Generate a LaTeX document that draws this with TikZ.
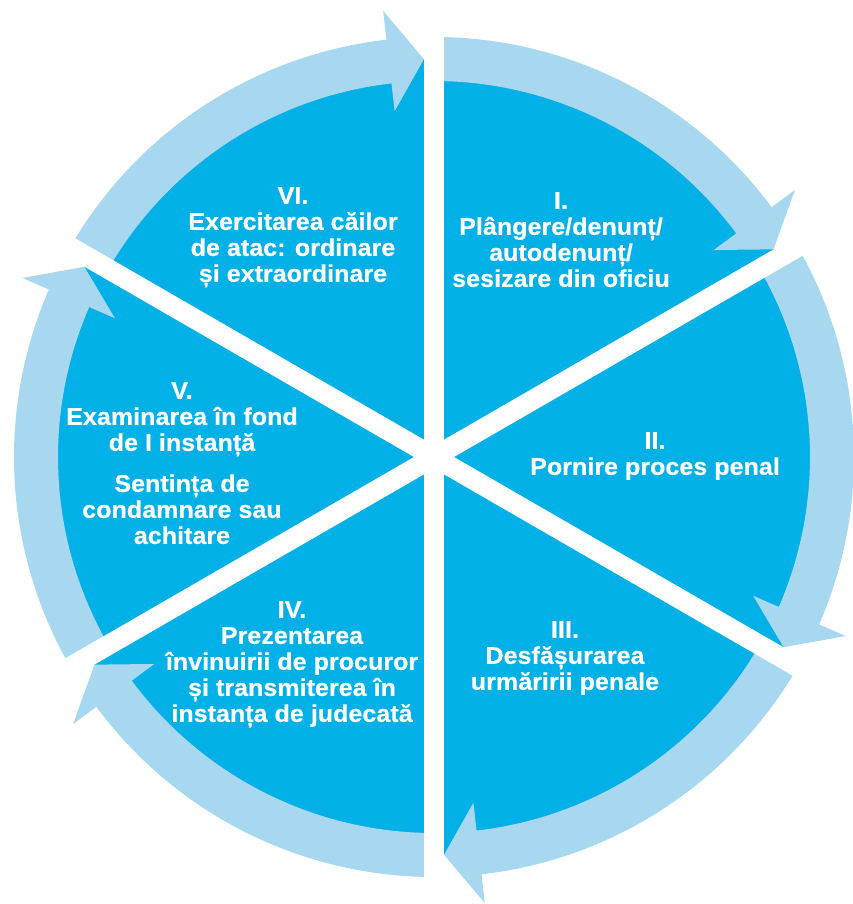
\documentclass[tikz,border=0pt]{standalone}
\usepackage{fontspec}
\setmainfont{Liberation Sans}[FakeStretch=1.04, BoldFeatures={FakeBold=0.4}]
\definecolor{discblue}{RGB}{0,176,230}
\definecolor{ringblue}{RGB}{168,216,240}

\begin{document}
\begin{tikzpicture}[x=0.03cm, y=0.03cm,
    stage/.style={align=center, text=white, inner sep=0pt, anchor=north,
        font=\bfseries\fontsize{20.6}{22.2}\selectfont},
    gap/.style={white, line width=0.6cm}]
    \useasboundingbox (-434,-447) rectangle (419,457);
    \coordinate (O) at (0,0);
    \fill[discblue] (O) circle (398);
    % ring arrows, clockwise from one gap to the next
    \foreach \a in {90,30,-30,-90,-150,-210}{
        \pgfmathsetmacro{\b}{\a-60+6.5}
        \pgfmathsetmacro{\t}{\a-60+1.45}
        \fill[ringblue] (\a:420) arc[start angle=\a, end angle=\b, radius=420]
            -- (\b:449) -- (\t:398) -- (\b:348) -- (\b:376)
            arc[start angle=\b, end angle=\a, radius=376] -- cycle;
    }
    % white gaps between the six stages
    \foreach \a in {90,30,-30,-90,-150,-210}
        \draw[gap] (O) -- (\a:470);
    \node[stage] (s1) at (127,265) {I.\\Plângere/denunț/\\autodenunț/\\sesizare din oficiu};
    \node[stage] (s2) at (221,25) {II.\\Pornire proces penal};
    \node[stage] (s3) at (131,-164) {III.\\Desfășurarea\\urmăririi penale};
    \node[stage] (s4) at (-142,-144) {IV.\\Prezentarea\\învinuirii de procuror\\și transmiterea în\\instanța de judecată};
    \node[stage] (s5) at (-252,75) {V.\\Examinarea în fond\\de I instanță\\[12.8pt]Sentința de\\condamnare sau\\achitare};
    \node[stage] (s6) at (-141,270) {VI.\\Exercitarea căilor\\de atac: ordinare\\și extraordinare};
\end{tikzpicture}
\end{document}
